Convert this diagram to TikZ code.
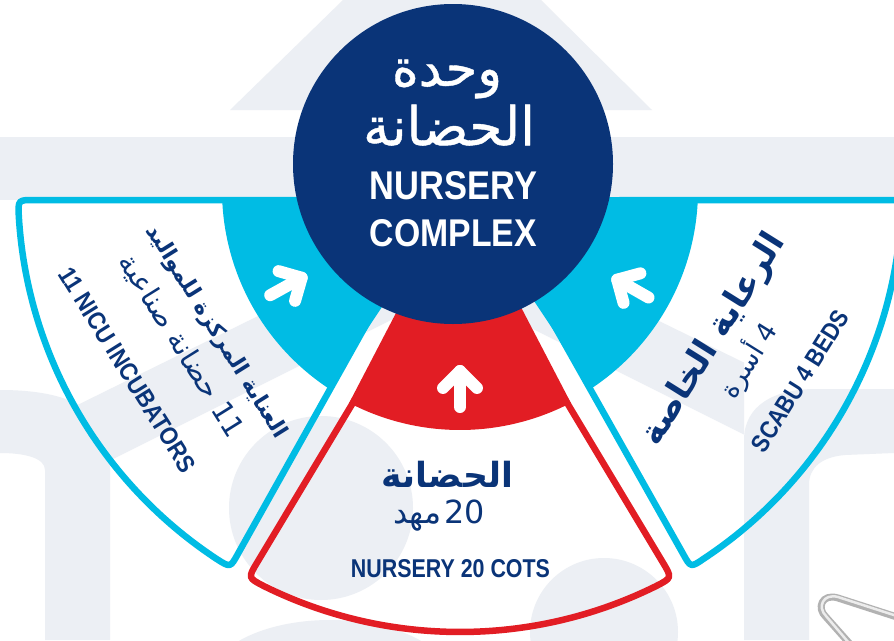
\documentclass[tikz,border=0pt]{standalone}
\usepackage{fontspec}
\usepackage{graphicx}
\usetikzlibrary{calc}
\setmainfont{Liberation Sans}
\newfontfamily\arabicfont[Script=Arabic]{DejaVu Sans}
\newfontfamily\arabicmed[Script=Arabic,FakeBold=0.8]{DejaVu Sans}
\TeXXeTstate=1
\definecolor{navy}{RGB}{10,52,120}
\definecolor{cyanb}{RGB}{0,188,228}
\definecolor{redb}{RGB}{226,29,36}
\definecolor{wm}{RGB}{236,239,244}
\begin{document}
\begin{tikzpicture}[x=1pt,y=-1pt,
  wmark/.style={fill=wm},
  cyanline/.style={draw=cyanb,line width=6.5pt,line join=round},
  redline/.style={draw=redb,line width=6.5pt,line join=round},
  arrowst/.style={draw=white,line width=12pt,line cap=round,line join=round},
  txt/.style={inner sep=0pt,text=navy},
  wtxt/.style={inner sep=0pt,text=white}]
\useasboundingbox (0,0) rectangle (894,640);
\clip (0,0) rectangle (894,640);
\fill[white] (0,0) rectangle (894,640);
\coordinate (F) at (460,190);
\coordinate (C) at (453,164);
% ---------- watermark ----------
\fill[wmark] (230,110) -- (343,0) -- (541,0) -- (652,110) -- cycle;
\fill[wmark] (0,137) rectangle (894,200);
\fill[wmark] (45,421) -- (453,220) -- (744,362.6) -- (744,434.5) -- (453,289) -- (45,493) -- cycle;
\fill[wmark] (0,390) .. controls (70,390) and (110,410) .. (110,460) -- (110,640) -- (45,640) -- (45,470) .. controls (45,458) and (25,453) .. (0,453) -- cycle;
\fill[wmark] (744,640) -- (744,440) .. controls (744,405) and (775,389) .. (815,389) -- (894,389) -- (894,453) -- (845,455) .. controls (822,457) and (809,467) .. (809,485) -- (809,640) -- cycle;
\fill[wmark] (321,508) circle[radius=92];
\fill[wmark] (604,632) circle[radius=74];
\fill[wmark] (330,680) ellipse[x radius=120,y radius=60];
% paper clip
\draw[line width=7pt,gray!60,line cap=round,line join=round] (900,618) -- (838,598) .. controls (822,593) and (816,608) .. (826,617) -- (850,644);
\draw[line width=2.5pt,gray!15,line cap=round,line join=round] (900,617) -- (838,597) .. controls (823,593) and (817,607) .. (826,616) -- (849,643);
% ---------- outlines ----------
\draw[cyanline] (380,300) -- (238.0,553.7) .. controls (230.3,567.7) .. ($(F)+(123.4:442)$) arc[start angle=123.4,end angle=176.6,radius=442] .. controls (18.1,200) .. (34,200) -- (300,200) -- cycle;
\draw[cyanline] (540,300) -- (683,553.7) .. controls (690.7,567.7) .. ($(F)+(56.5:442)$) arc[start angle=56.5,end angle=3.4,radius=442] .. controls (901.9,200) .. (886,200) -- (620,200) -- cycle;
\draw[redline] (396.6,330) -- (257.2,562.4) .. controls (247.9,577.8) .. ($(F)+(116.35:442)$) arc[start angle=116.35,end angle=63.65,radius=442] .. controls (672.1,577.8) .. (662.8,562.4) -- (523.4,330) -- cycle;
% ---------- fills ----------
\fill[cyanb] (F) -- ($(F)+(123.7:238)$) arc[start angle=123.7,end angle=178.3,radius=238] -- (453,197) -- cycle;
\fill[cyanb] (F) -- ($(F)+(56.3:238)$) arc[start angle=56.3,end angle=1.7,radius=238] -- (467,197) -- cycle;
\fill[redb] (F) -- ($(F)+(62.5:240)$) arc[start angle=62.5,end angle=117.5,radius=240] -- cycle;
% ---------- arrows ----------
\foreach \t in {151,90,29.7}{
  \coordinate (tip) at ($(F)+(\t:181)$);
  \draw[arrowst] ($(F)+(\t:217)$) -- (tip);
  \draw[arrowst] ($(tip)+(\t+45:24)$) -- (tip) -- ($(tip)+(\t-45:24)$);
}
% ---------- circle ----------
\fill[navy] (C) circle[radius=160];
\node[wtxt] (c1) at (447,79) {\resizebox{110pt}{!}{\arabicmed\beginR وحدة\endR}};
\node[wtxt] (c2) at (449,125) {\resizebox{172pt}{!}{\arabicmed\beginR الحضانة\endR}};
\node[wtxt] (c3) at (453.5,186) {\resizebox{167pt}{28pt}{\bfseries NURSERY}};
\node[wtxt] (c4) at (453.5,233.5) {\resizebox{167pt}{27pt}{\bfseries COMPLEX}};
% ---------- left ----------
\node[txt,rotate=-58] (l1) at (216,332) {\resizebox{247pt}{!}{\arabicfont\bfseries\beginR العناية المركزة للمواليد\endR}};
\node[txt,rotate=-58] (l2) at (181,346) {\resizebox{210pt}{!}{\arabicfont\beginR\beginL 11\endL{} حضانة صناعية\endR}};
\node[txt,rotate=-58] (l3) at (127.5,370) {\resizebox{236pt}{17.5pt}{\bfseries 11 NICU INCUBATORS}};
% ---------- right ----------
\node[txt,rotate=58] (r1) at (714,340) {\resizebox{243pt}{!}{\arabicfont\bfseries\beginR الرعاية الخاصة\endR}};
\node[txt,rotate=58] (r2) at (748,360) {\resizebox{83pt}{!}{\arabicfont\beginR\beginL 4\endL{} أسرة\endR}};
\node[txt,rotate=58] (r3) at (800,381) {\resizebox{162pt}{17.5pt}{\bfseries SCABU 4 BEDS}};
% ---------- middle ----------
\node[txt] (m1) at (447.5,474.5) {\resizebox{131pt}{!}{\arabicfont\bfseries\beginR الحضانة\endR}};
\node[txt] (m2) at (439,516) {\resizebox{92pt}{!}{\arabicfont\beginR\beginL 20\endL\kern1pt مهد\endR}};
\node[txt] (m3) at (450.5,569) {\resizebox{199pt}{18pt}{\bfseries NURSERY 20 COTS}};
\end{tikzpicture}
\end{document}
